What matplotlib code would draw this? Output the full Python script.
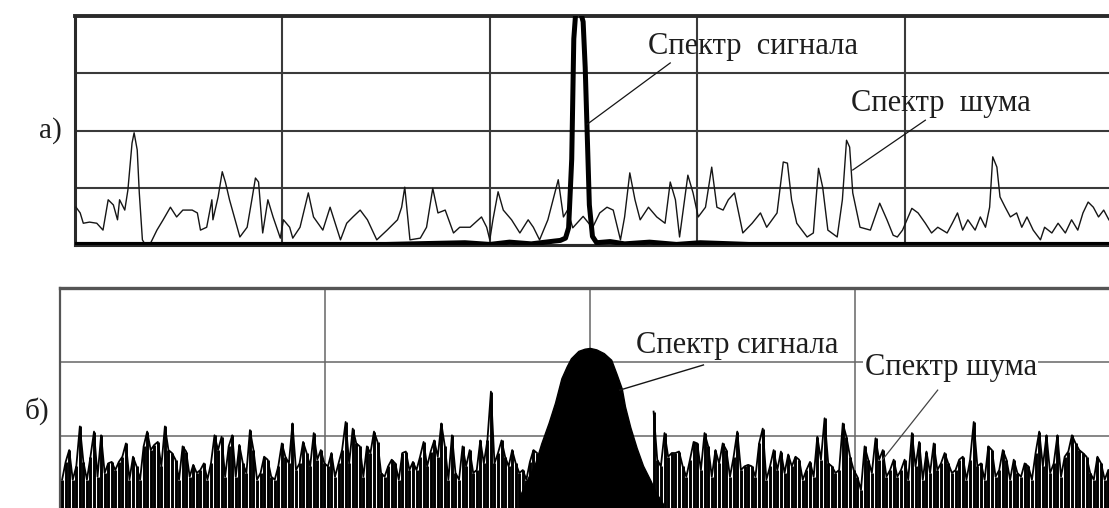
import matplotlib
matplotlib.use("Agg")
import matplotlib.pyplot as plt
import numpy as np

# --- a) narrow-band signal, top panel (x: 0..100, y: 0..4 divisions) ---
noise_top_f = [
    0.1, 0.5, 0.8, 1.4, 2.1, 2.7, 3.2, 3.7, 4.1, 4.3,
    4.8, 5.1, 5.5, 5.7, 6.0, 6.2, 6.5, 6.8, 7.2, 7.9,
    8.5, 9.2, 9.8, 10.4, 11.3, 11.8, 12.1, 12.7, 13.2, 13.3,
    13.8, 14.2, 14.5, 14.9, 15.9, 16.6, 17.1, 17.4, 17.7, 18.1,
    18.6, 19.1, 19.8, 20.1, 20.7, 21.0, 21.7, 22.5, 23.0, 23.9,
    24.6, 25.3, 25.6, 26.2, 26.8, 27.5, 28.2, 29.1, 30.1, 31.1,
    31.5, 31.8, 32.3, 33.3, 33.9, 34.5, 35.0, 35.7, 36.5, 37.1,
    38.1, 39.2, 39.7, 40.0, 40.3, 40.8, 41.3, 42.1, 42.9, 43.7,
    44.2, 44.8, 45.6, 46.1, 46.6, 47.1, 47.5, 48.0, 49.0, 49.9,
    50.6, 51.3, 51.9, 52.6, 53.0, 53.5, 54.0, 54.5, 55.3, 56.1,
    56.9, 57.4, 57.9, 58.3, 59.1, 59.6, 60.1, 60.8, 61.4, 61.9,
    62.5, 63.0, 63.6, 64.4, 65.3, 66.1, 66.7, 67.7, 68.3, 68.7,
    69.1, 69.6, 70.6, 71.2, 71.7, 72.1, 72.6, 73.5, 74.0, 74.4,
    74.7, 75.0, 75.7, 76.7, 77.6, 78.3, 78.9, 79.3, 79.8, 80.7,
    81.3, 82.0, 82.6, 83.2, 84.1, 84.6, 85.1, 85.6, 86.1, 86.8,
    87.3, 87.8, 88.2, 88.5, 88.9, 89.2, 89.7, 90.2, 90.8, 91.3,
    91.8, 92.4, 93.1, 93.5, 94.2, 94.8, 95.5, 96.1, 96.7, 97.2,
    97.7, 98.2, 98.7, 99.2, 99.7,
]
noise_top_v = [
    0.66, 0.56, 0.38, 0.40, 0.38, 0.26, 0.79, 0.70, 0.44, 0.79,
    0.61, 0.96, 1.78, 1.96, 1.66, 0.91, 0.09, 0.00, 0.00, 0.26,
    0.44, 0.66, 0.49, 0.61, 0.61, 0.56, 0.26, 0.31, 0.79, 0.44,
    0.84, 1.28, 1.10, 0.79, 0.14, 0.31, 0.84, 1.17, 1.10, 0.21,
    0.79, 0.49, 0.12, 0.44, 0.31, 0.12, 0.31, 0.91, 0.49, 0.26,
    0.66, 0.26, 0.09, 0.38, 0.49, 0.61, 0.44, 0.09, 0.26, 0.44,
    0.66, 1.01, 0.09, 0.12, 0.31, 0.99, 0.56, 0.61, 0.21, 0.31,
    0.31, 0.49, 0.31, 0.09, 0.44, 0.93, 0.61, 0.44, 0.21, 0.44,
    0.31, 0.09, 0.44, 0.79, 1.14, 0.49, 0.61, 0.30, 0.50, 0.30,
    0.56, 0.66, 0.61, 0.09, 0.49, 1.26, 0.79, 0.44, 0.66, 0.49,
    0.38, 1.10, 0.79, 0.14, 1.22, 0.91, 0.49, 0.66, 1.36, 0.66,
    0.61, 0.79, 0.91, 0.21, 0.38, 0.56, 0.31, 0.56, 1.45, 1.43,
    0.79, 0.38, 0.14, 0.21, 1.34, 1.01, 0.26, 0.14, 0.79, 1.83,
    1.71, 0.91, 0.31, 0.26, 0.73, 0.44, 0.17, 0.14, 0.26, 0.64,
    0.56, 0.38, 0.21, 0.31, 0.21, 0.38, 0.56, 0.26, 0.44, 0.26,
    0.49, 0.31, 0.66, 1.54, 1.36, 0.84, 0.66, 0.49, 0.56, 0.31,
    0.49, 0.26, 0.09, 0.31, 0.21, 0.38, 0.21, 0.44, 0.26, 0.56,
    0.75, 0.66, 0.49, 0.61, 0.44,
]
signal_top_f = [0, 30, 37.6, 40, 41.9, 44, 46.3, 46.8, 47.3, 47.6, 47.9, 48.1,
                48.3, 48.7, 49.0, 49.2, 49.4, 49.6, 49.9, 50.3, 51.6, 53, 55.4,
                58, 60.3, 65, 100]
signal_top_v = [0.01, 0.01, 0.04, 0.01, 0.05, 0.02, 0.07, 0.08, 0.12, 0.30, 1.5, 3.6,
                4.1, 4.1, 3.9, 3.1, 1.9, 0.7, 0.15, 0.04, 0.06, 0.02, 0.05,
                0.01, 0.04, 0.01, 0.01]

# --- b) wide-band signal, bottom panel (x: 0..100, y: 0..3 divisions) ---
noise_left_v = [
    0.41, 0.65, 0.81, 0.41, 0.59, 1.13, 0.65, 0.41, 0.72, 1.06,
    0.45, 1.01, 0.50, 0.63, 0.65, 0.54, 0.65, 0.72, 0.90, 0.41,
    0.72, 0.59, 0.41, 0.86, 1.06, 0.81, 0.88, 0.92, 0.59, 1.13,
    0.81, 0.77, 0.68, 0.41, 0.86, 0.79, 0.45, 0.61, 0.50, 0.54,
    0.63, 0.41, 0.63, 1.01, 0.81, 0.99, 0.45, 0.86, 1.01, 0.45,
    0.88, 0.63, 0.50, 1.08, 0.81, 0.41, 0.50, 0.72, 0.68, 0.45,
    0.41, 0.59, 0.90, 0.72, 0.63, 1.17, 0.54, 0.63, 0.92, 0.77,
    0.59, 1.04, 0.68, 0.81,
    0.63, 0.59, 0.77, 0.45, 0.63, 0.81, 1.19, 0.63, 1.10, 0.90,
    0.86, 0.45, 0.86, 0.77, 1.06, 0.92, 0.50, 0.45, 0.59, 0.68,
    0.63, 0.41, 0.77, 0.79, 0.54, 0.65, 0.54, 0.72, 0.92, 0.59,
    0.79, 0.94, 0.72, 1.17, 0.86, 0.41, 1.01, 0.50, 0.41, 0.86,
    0.59, 0.81, 0.50, 0.54, 0.94, 0.63, 0.94, 1.60, 0.63, 0.77,
    0.94, 0.72, 0.59, 0.81, 0.63, 0.50, 0.54, 0.41, 0.65, 0.81,
    0.77,
]
noise_right_v = [
    1.33, 0.68, 0.59, 1.04, 0.72, 0.77, 0.77, 0.79, 0.59, 0.45,
    0.68, 0.92, 0.90, 0.54, 1.04, 0.86, 0.45, 0.81, 0.63, 0.90,
    0.81, 0.45, 0.72, 1.06, 0.54, 0.59, 0.61, 0.59, 0.45, 0.90,
    1.10, 0.41, 0.59, 0.81, 0.54, 0.79, 0.50, 0.75, 0.59, 0.72,
    0.68, 0.41, 0.54, 0.65, 0.45, 0.99, 0.68, 1.24, 0.63, 0.59,
    0.50, 0.54, 1.17, 0.99, 0.72, 0.54,
    0.45, 0.27, 0.86, 0.68, 0.50, 0.97, 0.68, 0.81, 0.45, 0.54,
    0.68, 0.45, 0.54, 0.68, 0.41, 1.04, 0.59, 0.92, 0.41, 0.79,
    0.50, 0.90, 0.54, 0.63, 0.77, 0.63, 0.50, 0.54, 0.68, 0.72,
    0.41, 0.68, 1.19, 0.59, 0.63, 0.41, 0.86, 0.81, 0.45, 0.54,
    0.81, 0.68, 0.41, 0.68, 0.50, 0.45, 0.63, 0.59, 0.41, 0.77,
    1.06, 0.59, 1.01, 0.50, 0.63, 1.01, 0.45, 0.72, 0.79, 1.01,
    0.90, 0.81, 0.77, 0.72, 0.50, 0.41, 0.72, 0.63, 0.41, 0.54,
]
noise_left_span = (0.2, 45.0)
noise_right_span = (56.0, 98.9)
hump_f = [43.4, 44.2, 44.8, 45.4, 46.1, 46.7, 47.3, 47.8, 48.2, 48.9, 49.5, 50.0,
          50.6, 51.3, 52.0, 52.5, 53.0, 53.3, 53.8, 54.4, 55.0, 55.7, 56.2, 56.9]
hump_v = [0.20, 0.45, 0.62, 0.90, 1.18, 1.45, 1.78, 1.94, 2.05, 2.15, 2.18, 2.19,
          2.17, 2.12, 2.03, 1.84, 1.64, 1.40, 1.12, 0.84, 0.60, 0.40, 0.24, 0.08]

SERIF = ["Liberation Serif", "DejaVu Serif"]
INK = "#151515"
TXT = "#1e1e1e"

fig = plt.figure(figsize=(11.09, 5.08), dpi=100)
fig.patch.set_facecolor("white")

# top panel
ax1 = fig.add_axes([75 / 1109, 1 - 245 / 508, 1037 / 1109, 229 / 508])
ax1.set_xlim(0, 100)
ax1.set_ylim(0, 4)
ax1.set_xticks(np.arange(0, 101, 20))
ax1.set_yticks(np.arange(0, 5, 1))
ax1.grid(True, color="#3a3a3a", lw=1.5)
ax1.tick_params(length=0, labelbottom=False, labelleft=False)
for s in ax1.spines.values():
    s.set_color("#2a2a2a")
    s.set_linewidth(2.2)
ax1.spines["top"].set_linewidth(2.8)
ax1.set_axisbelow(True)
ax1.plot(noise_top_f, noise_top_v, color=INK, lw=1.0, zorder=3)
ax1.plot(signal_top_f, signal_top_v, color="black", lw=3.6, zorder=4)

ax1.plot([49.4, 57.4], [2.11, 3.18], color=INK, lw=0.9, zorder=5)
ax1.text(55.3, 3.46, "Спектр  сигнала", family=SERIF, fontsize=22,
         color=TXT, ha="left", va="center", zorder=6)
ax1.plot([75.0, 82.0], [1.31, 2.18], color=INK, lw=0.9, zorder=5)
ax1.text(74.8, 2.48, "Спектр  шума", family=SERIF, fontsize=22,
         color=TXT, ha="left", va="center", zorder=6)

# bottom panel
ax2 = fig.add_axes([60 / 1109, 1 - 510 / 508, 1060 / 1109, 222 / 508])
ax2.set_xlim(0, 100)
ax2.set_ylim(0, 3)
ax2.set_xticks(np.arange(0, 101, 25))
ax2.set_yticks(np.arange(0, 4, 1))
ax2.grid(True, color="#666666", lw=1.1)
ax2.tick_params(length=0, labelbottom=False, labelleft=False)
for s in ax2.spines.values():
    s.set_color("#555555")
    s.set_linewidth(1.6)
ax2.spines["top"].set_linewidth(2.4)
ax2.set_axisbelow(True)

for vals, (f0, f1) in ((noise_left_v, noise_left_span), (noise_right_v, noise_right_span)):
    fx = np.linspace(f0, f1, len(vals))
    ax2.vlines(fx, 0, vals, color="black", lw=2.1, zorder=3)
    ax2.plot(fx, vals, color="black", lw=1.3, zorder=3)
ax2.fill_between(hump_f, 0, hump_v, color="black", lw=1.0, edgecolor="black", zorder=4)

ax2.plot([52.8, 60.7], [1.62, 1.96], color=INK, lw=1.0, zorder=5)
ax2.text(54.3, 2.22, "Спектр сигнала", family=SERIF, fontsize=22,
         color=TXT, ha="left", va="center", zorder=6)
ax2.plot([77.6, 82.8], [0.68, 1.62], color="#444444", lw=0.9, zorder=5)
ax2.text(75.9, 1.92, "Спектр шума", family=SERIF, fontsize=22,
         color=TXT, ha="left", va="center", zorder=6,
         bbox=dict(facecolor="white", edgecolor="none", pad=1))

fig.text(50 / 1109, 1 - 131 / 508, "а)", family=SERIF, fontsize=21,
         color=TXT, ha="center", va="center")
fig.text(37 / 1109, 1 - 411 / 508, "б)", family=SERIF, fontsize=21,
         color=TXT, ha="center", va="center")

fig.savefig("out.png", dpi=100)
